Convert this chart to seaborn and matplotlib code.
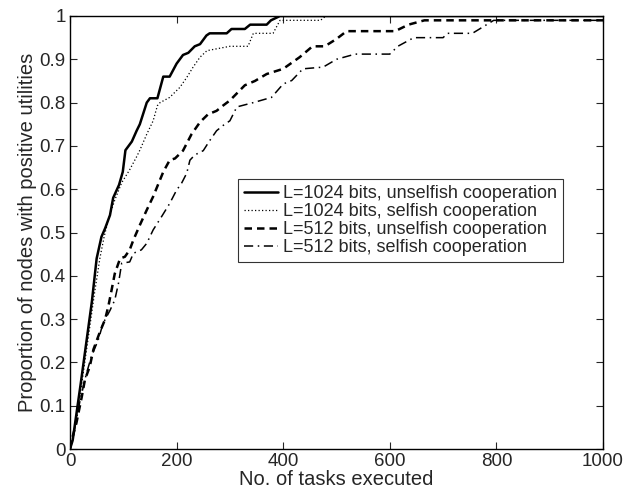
import matplotlib
matplotlib.use('Agg')
import matplotlib.pyplot as plt
import seaborn as sns
import numpy as np

sns.set_style('ticks')
plt.rcParams['font.family'] = ['Liberation Sans', 'DejaVu Sans']

# L=1024 bits, unselfish cooperation
x_1024_unselfish = [0, 5, 20, 41, 50, 59, 66, 75, 81, 92, 99, 104, 116, 125, 131, 144, 150, 164,
                    175, 187, 200, 212, 222, 234, 244, 256, 262, 294, 303, 328, 338, 369, 377, 394, 1000]
y_1024_unselfish = [0, 0.02, 0.15, 0.34, 0.44, 0.49, 0.51, 0.54, 0.58, 0.61, 0.64, 0.69, 0.71, 0.735,
                    0.75, 0.80, 0.81, 0.81, 0.86, 0.86, 0.89, 0.91, 0.915, 0.93, 0.935, 0.955, 0.96,
                    0.96, 0.97, 0.97, 0.98, 0.98, 0.99, 1.0, 1.0]

# L=1024 bits, selfish cooperation
x_1024_selfish = [0, 5, 22, 46, 56, 64, 72, 84, 97, 112, 125, 131, 144, 156, 164, 169, 187, 206, 219,
                  231, 244, 257, 300, 334, 344, 381, 394, 470, 480, 1000]
y_1024_selfish = [0, 0.02, 0.15, 0.36, 0.44, 0.49, 0.53, 0.575, 0.615, 0.645, 0.675, 0.69, 0.727,
                  0.758, 0.793, 0.80, 0.812, 0.835, 0.858, 0.882, 0.905, 0.92, 0.93, 0.93, 0.96,
                  0.96, 0.99, 0.99, 1.0, 1.0]

# L=512 bits, unselfish cooperation
x_512_unselfish = [0, 3, 12, 22, 28, 37, 44, 56, 66, 72, 78, 84, 94, 103, 112, 119, 131, 144, 156, 166,
                   175, 187, 197, 212, 228, 244, 259, 275, 287, 300, 312, 328, 347, 369, 400, 431, 455,
                   478, 500, 519, 610, 635, 665, 1000]
y_512_unselfish = [0, 0.02, 0.06, 0.12, 0.16, 0.19, 0.23, 0.27, 0.30, 0.33, 0.367, 0.405, 0.44, 0.444,
                   0.46, 0.483, 0.517, 0.552, 0.583, 0.613, 0.64, 0.667, 0.671, 0.689, 0.727, 0.755,
                   0.773, 0.781, 0.793, 0.805, 0.82, 0.84, 0.85, 0.866, 0.878, 0.905, 0.93, 0.93,
                   0.947, 0.965, 0.965, 0.98, 0.99, 0.99]

# L=512 bits, selfish cooperation
x_512_selfish = [0, 6, 19, 31, 40, 53, 62, 75, 84, 91, 97, 112, 119, 134, 144, 156, 172, 187, 200, 209,
                 219, 225, 234, 250, 262, 275, 287, 300, 313, 344, 378, 400, 416, 437, 475, 500, 535,
                 600, 615, 645, 700, 708, 755, 775, 795, 1000]
y_512_selfish = [0, 0.03, 0.113, 0.175, 0.213, 0.252, 0.29, 0.32, 0.344, 0.383, 0.429, 0.432, 0.452,
                 0.46, 0.475, 0.506, 0.537, 0.567, 0.598, 0.613, 0.637, 0.667, 0.679, 0.689, 0.712,
                 0.735, 0.747, 0.758, 0.79, 0.80, 0.812, 0.843, 0.851, 0.878, 0.882, 0.90, 0.912,
                 0.912, 0.93, 0.95, 0.95, 0.96, 0.96, 0.975, 0.99, 0.99]

labels = ['L=1024 bits, unselfish cooperation', 'L=1024 bits, selfish cooperation',
          'L=512 bits, unselfish cooperation', 'L=512 bits, selfish cooperation']

fig = plt.figure(figsize=(6.33, 4.95), dpi=100)
ax = fig.add_axes([70 / 633, 46 / 495, 533 / 633, 433 / 495])

sns.lineplot(x=x_1024_unselfish, y=y_1024_unselfish, ax=ax, color='k', lw=1.8,
             linestyle='-', estimator=None, sort=False, label=labels[0])
sns.lineplot(x=x_1024_selfish, y=y_1024_selfish, ax=ax, color='k', lw=0.9,
             linestyle=(0, (1, 1.8)), estimator=None, sort=False, label=labels[1])
sns.lineplot(x=x_512_unselfish, y=y_512_unselfish, ax=ax, color='k', lw=1.8,
             linestyle=(0, (3, 2)), estimator=None, sort=False, label=labels[2])
sns.lineplot(x=x_512_selfish, y=y_512_selfish, ax=ax, color='k', lw=1.1,
             linestyle=(0, (6, 3, 1, 3)), estimator=None, sort=False, label=labels[3])

ax.set_xlim(0, 1000)
ax.set_ylim(0, 1)
ax.set_xticks(np.arange(0, 1001, 200))
ax.set_yticks(np.arange(0, 1.01, 0.1))
ax.set_yticklabels(['0', '0.1', '0.2', '0.3', '0.4', '0.5', '0.6', '0.7', '0.8', '0.9', '1'])
ax.tick_params(direction='in', top=True, right=True, labelsize=13.5, length=5, width=0.8, pad=3)
for s in ax.spines.values():
    s.set_visible(True)
    s.set_linewidth(1.0)
    s.set_color('k')

ax.set_xlabel('No. of tasks executed', fontsize=14.5, labelpad=0)
ax.set_ylabel('Proportion of nodes with positive utilities', fontsize=14.5, labelpad=2)

leg = ax.legend(loc='upper right', bbox_to_anchor=(0.925, 0.6236), fontsize=13, frameon=True,
                fancybox=False, edgecolor='k', labelspacing=0.05, handlelength=1.9,
                handletextpad=0.25, borderpad=0.35, borderaxespad=0)
leg.get_frame().set_linewidth(0.8)

fig.savefig('out.png', dpi=100)
